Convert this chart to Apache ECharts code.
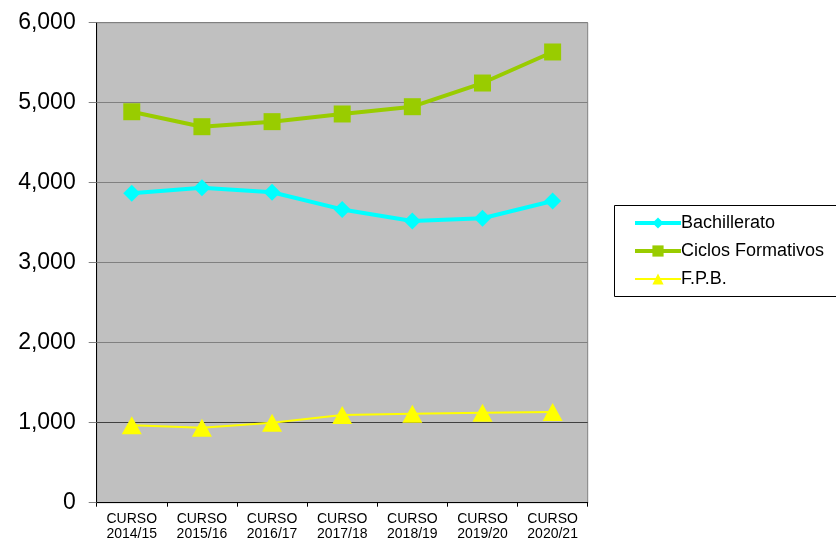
<!DOCTYPE html>
<html>
<head>
<meta charset="utf-8">
<script src="https://cdn.jsdelivr.net/npm/echarts@6/dist/echarts.min.js"></script>
<style>html,body{margin:0;padding:0;background:#fff}#c{width:836px;height:542px}</style>
</head>
<body>
<div id="c"></div>
<script>
const categories = ['CURSO\n2014/15','CURSO\n2015/16','CURSO\n2016/17','CURSO\n2017/18','CURSO\n2018/19','CURSO\n2019/20','CURSO\n2020/21'];
const bachillerato = [3868, 3938, 3880, 3666, 3521, 3555, 3771];
const ciclos = [4887, 4700, 4763, 4859, 4950, 5246, 5634];
const fpb = [967, 938, 1000, 1096, 1113, 1125, 1134];
const yTicks = {min: 0, max: 6000, interval: 1000};

const chart = echarts.init(document.getElementById('c'), null, {renderer: 'canvas'});
const font = 'Arial, "Liberation Sans", sans-serif';
chart.setOption({
  animation: false,
  backgroundColor: '#ffffff',
  textStyle: {fontFamily: font},
  grid: {left: 96.7, top: 22.7, right: 248.3, bottom: 39.3, show: true,
    backgroundColor: '#c0c0c0', borderColor: '#808080', borderWidth: 1},
  graphic: [{type: 'rect', shape: {x: 614.5, y: 205.5, width: 240, height: 91},
    style: {fill: '#ffffff', stroke: '#000000', lineWidth: 1}, z: 0}],
  legend: {
    orient: 'vertical', left: 628, top: 209, itemGap: 10, itemWidth: 46, itemHeight: 14,
    textStyle: {fontSize: 18, color: '#000', fontFamily: font, padding: [0,0,0,-5]},
    data: [
      {name: 'Bachillerato', lineStyle: {width: 4}},
      {name: 'Ciclos Formativos', lineStyle: {width: 4}},
      {name: 'F.P.B.', lineStyle: {width: 2}}
    ], z: 5
  },
  xAxis: {
    type: 'category', data: categories, boundaryGap: true,
    axisLine: {lineStyle: {color: '#000', width: 1}},
    axisTick: {show: true, length: 4, interval: 0, lineStyle: {color: '#000'}},
    axisLabel: {fontSize: 14, color: '#000', lineHeight: 15, margin: 9, interval: 0, fontFamily: font},
    splitLine: {show: false}
  },
  yAxis: {
    type: 'value', min: yTicks.min, max: yTicks.max, interval: yTicks.interval,
    axisLine: {show: true, lineStyle: {color: '#000', width: 1}},
    axisTick: {show: true, length: 8, lineStyle: {color: '#808080'}},
    axisLabel: {fontSize: 23, color: '#000', margin: 21, fontFamily: font,
      formatter: v => v.toLocaleString('en-US')},
    splitLine: {show: true, lineStyle: {color: ['#808080','#404040','#808080','#808080','#808080','#808080','#808080'], width: 1}}
  },
  series: [
    {name: 'Bachillerato', type: 'line', data: bachillerato, color: '#00ffff',
      lineStyle: {width: 4, color: '#00ffff'}, symbol: 'diamond', symbolSize: 17,
      itemStyle: {color: '#00ffff'}},
    {name: 'Ciclos Formativos', type: 'line', data: ciclos, color: '#99cc00',
      lineStyle: {width: 4, color: '#99cc00'}, symbol: 'rect', symbolSize: 17,
      itemStyle: {color: '#99cc00'}},
    {name: 'F.P.B.', type: 'line', data: fpb, color: '#ffff00',
      lineStyle: {width: 2, color: '#ffff00'}, symbol: 'triangle', symbolSize: [20, 18],
      itemStyle: {color: '#ffff00'}}
  ]
});
</script>
</body>
</html>
